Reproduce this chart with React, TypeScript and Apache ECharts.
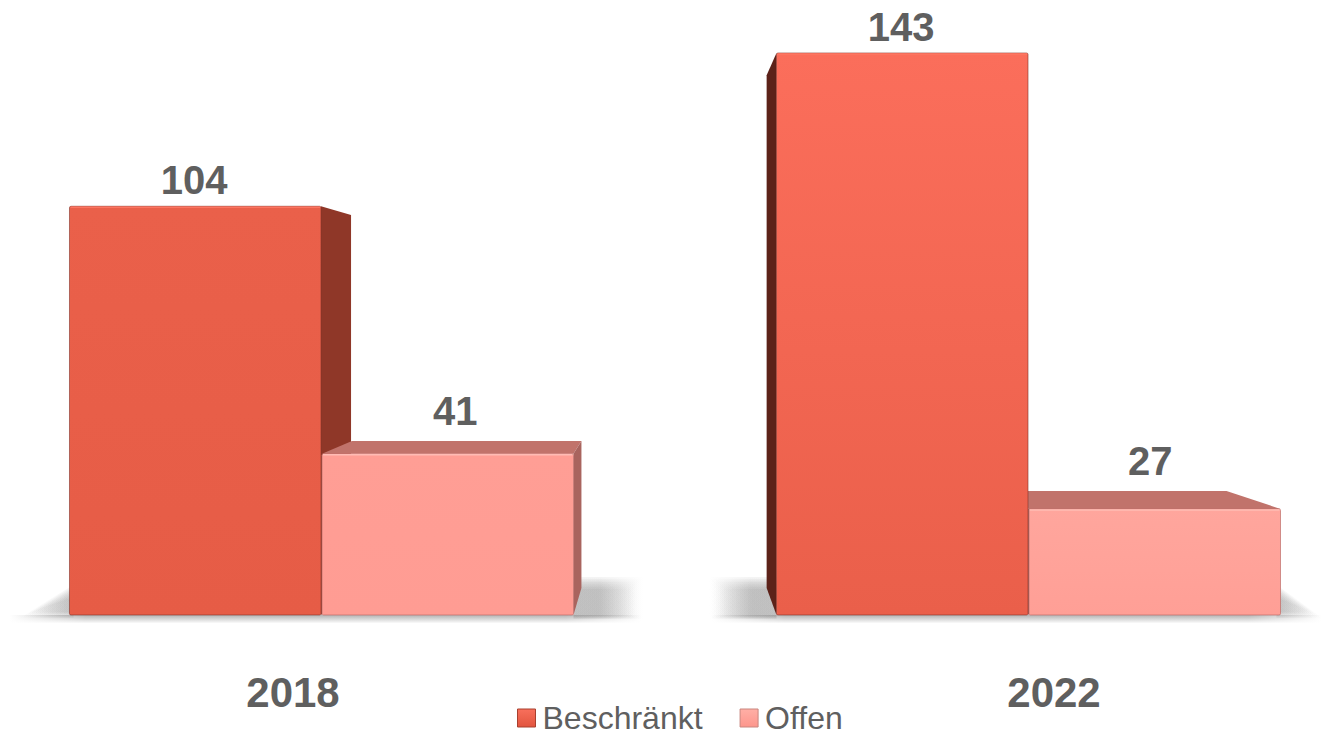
import React, { useEffect, useRef } from "react";
import * as echarts from "echarts";

const categories = ["2018", "2022"];
const seriesNames = ["Beschränkt", "Offen"];
const beschraenkt = [104, 143];
const offen = [41, 27];

const FONT = '"Liberation Sans", Arial, Helvetica, sans-serif';
const TEXT = "#5f5f5f";

// perspective of the scene
const VANISH = { x: 664, y: 306 };
const DEPTH = 0.0876;
const BAR_SHARE = 0.3305;
const GROUP_SHIFT = [28, -26];
const LABEL_NUDGE = [
  [-1, -1],
  [7.5, -4.5],
];

const FACE = [
  {
    front: [["#ea604a", "#e65c46"], ["#fb6e5b", "#ea5f4a"]],
    edge: "rgba(130,50,40,0.6)",
    light: "rgba(255,120,100,0.9)",
    top: "#c1736b",
    side: ["#8f3728", "#5c2219"],
  },
  {
    front: [["#ff9e95", "#ff9c93"], ["#ffa69d", "#ff9f96"]],
    edge: "rgba(190,110,105,0.7)",
    light: "rgba(255,190,182,0.95)",
    top: "#c1736b",
    side: ["#a9645e", "#a9645e"],
  },
];

const vGrad = (a: string, b: string) => ({
  type: "linear", x: 0, y: 0, x2: 0, y2: 1,
  colorStops: [{ offset: 0, color: a }, { offset: 1, color: b }],
});

const GRAY = "rgba(140,140,140,1)";
const CLEAR = "rgba(140,140,140,0)";
const fadeRight = {
  type: "linear", x: 0, y: 0, x2: 1, y2: 0,
  colorStops: [
    { offset: 0, color: GRAY },
    { offset: 0.4, color: GRAY },
    { offset: 1, color: CLEAR },
  ],
};
const fadeLeft = {
  type: "linear", x: 0, y: 0, x2: 1, y2: 0,
  colorStops: [
    { offset: 0, color: CLEAR },
    { offset: 0.6, color: GRAY },
    { offset: 1, color: GRAY },
  ],
};
const wedgeLeft = {
  type: "linear", x: 0, y: 0, x2: 1, y2: 0,
  colorStops: [{ offset: 0, color: CLEAR }, { offset: 1, color: GRAY }],
};
const wedgeRight = {
  type: "linear", x: 0, y: 0, x2: 1, y2: 0,
  colorStops: [{ offset: 0, color: GRAY }, { offset: 1, color: CLEAR }],
};
const bandFade = {
  type: "linear", x: 0, y: 0, x2: 1, y2: 0,
  colorStops: [
    { offset: 0, color: CLEAR },
    { offset: 0.12, color: GRAY },
    { offset: 0.88, color: GRAY },
    { offset: 1, color: CLEAR },
  ],
};

const back = (p: number[]) => [
  p[0] + DEPTH * (VANISH.x - p[0]),
  p[1] + DEPTH * (VANISH.y - p[1]),
];

const boxItem = (s: number) => (_: any, api: any) => {
  const cat = api.value(0);
  const val = api.value(1);
  const [cx, base] = api.coord([cat, 0]);
  const [, topY] = api.coord([cat, val]);
  const w = api.size([1, 0])[0] * BAR_SHARE;
  const mid = cx + GROUP_SHIFT[cat];
  const x0 = s === 0 ? mid - w : mid + 1;
  const x1 = x0 + w;
  const f = FACE[s];
  const z2 = Math.round(2000 - Math.abs((x0 + x1) / 2 - VANISH.x));
  const children: any[] = [];
  const poly = (pts: number[][], fill: string) =>
    children.push({ type: "polygon", z2, shape: { points: pts }, style: { fill } });

  const btl = back([x0, topY]);
  const btr = back([x1, topY]);
  const bbl = back([x0, base]);
  const bbr = back([x1, base]);
  if (topY > VANISH.y) poly([[x0, topY], btl, btr, [x1, topY]], f.top);
  if (x1 < VANISH.x) poly([[x1, topY], btr, bbr, [x1, base]], f.side[0]);
  if (x0 > VANISH.x) poly([[x0, topY], btl, bbl, [x0, base]], f.side[1]);

  children.push({
    type: "rect", z2,
    shape: { x: x0, y: topY, width: w, height: base - topY, r: 1.5 },
    style: { fill: vGrad(f.front[cat][0], f.front[cat][1]), stroke: f.edge, lineWidth: 1 },
  });
  children.push({
    type: "line", z2,
    shape: { x1: x0 + 1, y1: topY + 1, x2: x1 - 1, y2: topY + 1 },
    style: { stroke: f.light, lineWidth: 1.5 },
  });

  const labelY = Math.min(topY, topY > VANISH.y ? btl[1] : topY) - (topY > VANISH.y ? 30 : 26);
  children.push({
    type: "text", z2: 5000,
    style: {
      text: String(val),
      x: (x0 + x1) / 2 + LABEL_NUDGE[s][cat],
      y: labelY,
      align: "center",
      verticalAlign: "middle",
      fontFamily: FONT,
      fontSize: 40,
      fontWeight: "bold",
      fill: TEXT,
    },
  });
  return { type: "group", children };
};

const floorItem = (_: any, api: any) => {
  const cat = api.value(0);
  const [cx, base] = api.coord([cat, 0]);
  const w = api.size([1, 0])[0] * BAR_SHARE;
  const mid = cx + GROUP_SHIFT[cat];
  const L = mid - w;
  const R = mid + w + 1;
  const children: any[] = [];
  const LAYERS = [0, 1, 2, 3, 4, 5, 6, 7];
  const BAND = [0, 1, 2, 3, 4, 5, 6, 7];

  // thin contact band below the bars, fading down and to both ends
  const bandX = cat === 0 ? L - 60 : L - 65;
  const bandW = R - L + (cat === 0 ? 128 : 106);
  BAND.forEach((i) => {
    children.push({
      type: "rect",
      shape: { x: bandX, y: base + i, width: bandW, height: 1 },
      style: { fill: bandFade, opacity: 0.62 * (1 - i / 8) },
    });
  });

  LAYERS.forEach((i) => {
    const g = i * 1.7;
    const layer = (fill: any) => ({ fill, opacity: 0.095 });
    const rectShape = (x: number, width: number) => ({
      x, y: base - 38 + g, width, height: 42 - g * 1.3,
    });
    if (cat === 0) {
      // wedge away from the vanishing point, block towards it
      children.push({
        type: "polygon",
        shape: { points: [[L + 4, base - 30 + g], [L + 4, base + 3 - g / 2], [L - 50 + g, base + 3 - g / 2]] },
        style: layer(wedgeLeft),
      });
      children.push({ type: "rect", shape: rectShape(R, 70 - g), style: layer(fadeRight) });
    } else {
      children.push({ type: "rect", shape: rectShape(L - 68 + g, 68 - g), style: layer(fadeLeft) });
      children.push({
        type: "polygon",
        shape: { points: [[R - 4, base - 30 + g], [R - 4, base + 3 - g / 2], [R + 42 - g, base + 3 - g / 2]] },
        style: layer(wedgeRight),
      });
    }
  });
  return { type: "group", children };
};

export default function App() {
  const ref = useRef<HTMLDivElement>(null);
  useEffect(() => {
    document.body.style.margin = "0";
    const chart = echarts.init(ref.current!, undefined, { renderer: "svg" });
    chart.setOption({
      animation: false,
      backgroundColor: "#ffffff",
      grid: { left: -87.5, width: 1522, top: 53, bottom: 120, containLabel: false, outerBoundsMode: "none" },
      xAxis: {
        type: "category",
        data: categories,
        axisLine: { show: false },
        axisTick: { show: false },
        splitLine: { show: false },
        axisLabel: {
          margin: 56,
          fontFamily: FONT,
          fontSize: 42,
          fontWeight: "bold",
          color: TEXT,
        },
      },
      yAxis: { type: "value", min: 0, max: 143, show: false, splitLine: { show: false } },
      legend: {
        left: 517,
        top: 702,
        padding: 0,
        itemGap: 37,
        itemWidth: 18,
        itemHeight: 18,
        icon: "rect",
        selectedMode: false,
        textStyle: { fontFamily: FONT, fontSize: 32, lineHeight: 32, color: TEXT, padding: [0, 0, 0, 2] },
        data: [
          {
            name: seriesNames[0],
            itemStyle: { color: vGrad("#f8705c", "#e2543e"), borderColor: "#a8402f", borderWidth: 1 },
          },
          {
            name: seriesNames[1],
            itemStyle: { color: vGrad("#ffafa6", "#fd968c"), borderColor: "#c9867f", borderWidth: 1 },
          },
        ],
      },
      series: [
        {
          name: "Boden",
          type: "custom",
          z: 1,
          silent: true,
          clip: false,
          renderItem: floorItem,
          encode: { x: 0, y: 1 },
          data: categories.map((_, i) => [i, 0]),
        },
        {
          name: seriesNames[0],
          type: "custom",
          z: 2,
          clip: false,
          renderItem: boxItem(0),
          encode: { x: 0, y: 1 },
          itemStyle: { color: "#e85d47" },
          data: beschraenkt.map((v, i) => [i, v]),
        },
        {
          name: seriesNames[1],
          type: "custom",
          z: 2,
          clip: false,
          renderItem: boxItem(1),
          encode: { x: 0, y: 1 },
          itemStyle: { color: "#ff9c93" },
          data: offen.map((v, i) => [i, v]),
        },
      ],
    });
    return () => chart.dispose();
  }, []);
  return <div ref={ref} style={{ position: "fixed", left: 0, top: 0, width: 1322, height: 735 }} />;
}
